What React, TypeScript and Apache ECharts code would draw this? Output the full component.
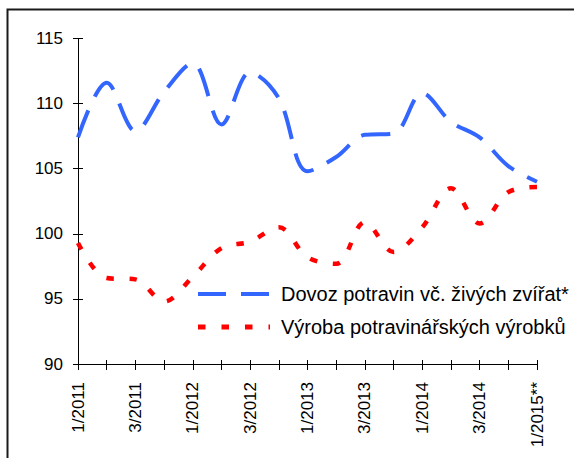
import React, { useEffect, useRef } from "react";
import * as echarts from "echarts";

const categories = [
  "1/2011", "2/2011", "3/2011", "4/2011",
  "1/2012", "2/2012", "3/2012", "4/2012",
  "1/2013", "2/2013", "3/2013", "4/2013",
  "1/2014", "2/2014", "3/2014", "4/2014",
  "1/2015**",
];

const dovozName = "Dovoz potravin vč. živých zvířat*";
const dovozValues = [107.4, 111.6, 107.9, 110.9, 113.1, 108.4, 112.4, 110.4, 104.8, 105.9, 107.6, 107.7, 110.8, 108.6, 107.4, 105.2, 104.0];

const vyrobaName = "Výroba potravinářských výrobků";
const vyrobaValues = [99.3, 96.6, 96.5, 94.8, 96.7, 98.9, 99.4, 100.5, 98.2, 97.7, 100.9, 98.6, 100.5, 103.5, 100.8, 103.2, 103.6];

const yMin = 90;
const yMax = 115;
const yInterval = 5;

const FONT = "'Liberation Sans', Arial, sans-serif";
const BLUE = "#3366ff";
const RED = "#ff0000";
const BLUE_DASH = [29, 15];
const RED_DASH = [7.5, 15.5];

export default function App() {
  const ref = useRef<HTMLDivElement>(null);

  useEffect(() => {
    if (!ref.current) return;
    const chart = echarts.init(ref.current, undefined, { renderer: "svg" });
    const legendTop = 283;
    const legendItemH = 22;
    const legendGap = 11;
    const legendLeft = 198;
    const legendIconW = 72;
    const row0 = legendTop + legendItemH / 2;
    const row1 = row0 + legendItemH + legendGap;
    chart.setOption({
      animation: false,
      backgroundColor: "#ffffff",
      textStyle: { fontFamily: FONT },
      grid: { left: 78, right: 37, top: 38.5, bottom: 94, containLabel: false },
      graphic: [
        {
          type: "rect",
          shape: { x: 7.5, y: 9.5, width: 600, height: 500 },
          style: { fill: "none", stroke: "#1a1a1a", lineWidth: 2 },
          silent: true,
          z: 100,
        },
        {
          type: "line",
          shape: { x1: legendLeft, y1: row0, x2: legendLeft + legendIconW, y2: row0 },
          style: { stroke: BLUE, lineWidth: 4, lineDash: [28, 15], lineCap: "butt" },
          silent: true,
          z: 50,
        },
        {
          type: "line",
          shape: { x1: legendLeft, y1: row1, x2: legendLeft + legendIconW, y2: row1 },
          style: { stroke: RED, lineWidth: 5, lineDash: [7.5, 16], lineCap: "butt" },
          silent: true,
          z: 50,
        },
      ],
      legend: {
        orient: "vertical",
        left: legendLeft,
        top: legendTop,
        padding: 0,
        itemWidth: legendIconW,
        itemHeight: legendItemH,
        itemGap: legendGap,
        textStyle: { fontFamily: FONT, fontSize: 20, color: "#000", padding: [0, 0, 0, 5], lineHeight: legendItemH },
        data: [
          { name: dovozName, itemStyle: { opacity: 0 }, lineStyle: { opacity: 0 } },
          { name: vyrobaName, itemStyle: { opacity: 0 }, lineStyle: { opacity: 0 } },
        ],
      },
      xAxis: [
        {
          type: "category",
          data: categories,
          boundaryGap: false,
          axisLine: { lineStyle: { color: "#000", width: 1 } },
          axisTick: { show: true, interval: 0, inside: false, length: 6, lineStyle: { color: "#000" } },
          axisLabel: {
            interval: 1,
            rotate: 90,
            margin: 18,
            fontSize: 17,
            fontFamily: FONT,
            color: "#000",
          },
          splitLine: { show: false },
        },
        {
          type: "category",
          data: categories,
          boundaryGap: false,
          position: "bottom",
          axisLine: { show: false },
          axisTick: { show: true, interval: 0, inside: true, length: 4, lineStyle: { color: "#000" } },
          axisLabel: { show: false },
          splitLine: { show: false },
        },
      ],
      yAxis: [
        {
          type: "value",
          min: yMin,
          max: yMax,
          interval: yInterval,
          axisLine: { show: true, lineStyle: { color: "#000", width: 1 } },
          axisTick: { show: true, inside: false, length: 5, lineStyle: { color: "#000" } },
          axisLabel: { margin: 15, fontSize: 17, fontFamily: FONT, color: "#000" },
          splitLine: { show: false },
        },
        {
          type: "value",
          min: yMin,
          max: yMax,
          interval: yInterval,
          position: "left",
          axisLine: { show: false },
          axisTick: { show: true, inside: true, length: 5, lineStyle: { color: "#000" } },
          axisLabel: { show: false },
          splitLine: { show: false },
        },
      ],
      series: [
        {
          name: dovozName,
          type: "line",
          data: dovozValues,
          smooth: 0.35,
          symbol: "none",
          showSymbol: false,
          lineStyle: { color: BLUE, width: 4, type: BLUE_DASH, cap: "butt" },
          itemStyle: { color: BLUE },
        },
        {
          name: vyrobaName,
          type: "line",
          data: vyrobaValues,
          smooth: 0.35,
          symbol: "none",
          showSymbol: false,
          lineStyle: { color: RED, width: 4.5, type: RED_DASH, cap: "butt" },
          itemStyle: { color: RED },
        },
      ],
    });
    return () => chart.dispose();
  }, []);

  return <div ref={ref} style={{ width: 574, height: 458, position: "absolute", left: 0, top: 0 }} />;
}
